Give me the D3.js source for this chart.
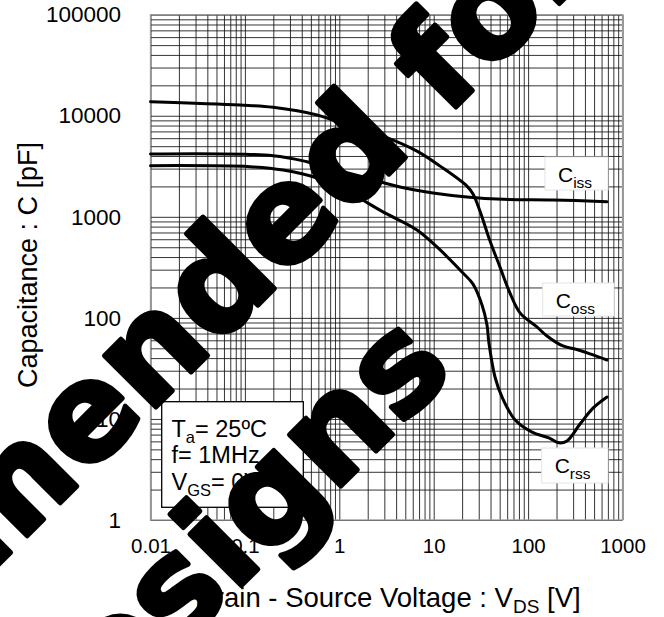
<!DOCTYPE html>
<html><head><meta charset="utf-8">
<script src="https://cdn.jsdelivr.net/npm/d3@7"></script>
<style>
body{margin:0;background:#fff}
svg{display:block}
text{font-family:"Liberation Sans", Arial, sans-serif; fill:#000}
</style>
</head><body>
<svg id="c" width="664" height="617"></svg>
<script>
// ---- data ----
const xTicks = [0.01, 0.1, 1, 10, 100, 1000];
const xTickLabels = ["0.01", "0.1", "1", "10", "100", "1000"];
const yTicks = [1, 10, 100, 1000, 10000, 100000];
const yTickLabels = ["1", "10", "100", "1000", "10000", "100000"];

const cossV = [0.01, 0.0887, 0.199, 0.581, 1.30, 2.90, 6.65, 11.7, 22.5, 26.1, 30.9, 39.5, 50.4, 64.3, 82.1, 124, 158.5, 234, 314, 453, 685];
const cossC = [13770, 12770, 12130, 10180, 7900, 6300, 4470, 3175, 2014, 1680, 1140, 575, 318, 176, 112, 81.3, 66.2, 52.7, 49.2, 44.0, 38.3];

const cissV = [0.01, 0.199, 0.455, 0.946, 1.97, 4.40, 9.84, 22.5, 54.2, 184, 685];
const cissC = [4185, 4027, 3510, 2904, 2421, 1972, 1721, 1571, 1490, 1467, 1412];

const crssV = [0.01, 0.113, 0.254, 0.581, 1.30, 2.90, 6.65, 11.7, 20.4, 26.1, 32.5, 36.7, 38.5, 44.6, 52.9, 72.6, 110, 166, 212, 258, 355, 487, 685];
const crssC = [3206, 3133, 2904, 2421, 1721, 1120, 741, 470, 278, 216, 134, 85, 56, 26, 16.5, 9.8, 7.4, 6.5, 5.8, 6.05, 8.9, 12.8, 16.5];

const seriesNames = ["C", "C", "C"];
const seriesSubs = ["iss", "oss", "rss"];
const conditionLines = [["T", "a", "= 25ºC"], ["f= 1MHz", "", ""], ["V", "GS", "= 0V"]];
const xTitle = ["Drain - Source Voltage : V", "DS", " [V]"];
const yTitle = "Capacitance : C [pF]";
const watermarkLines = ["Not Recommended for", "New Designs"];

// ---- layout ----
const L = 150.5, R = 622.5, T = 14.7, B = 520;
const svg = d3.select("#c");
const x = d3.scaleLog().domain([0.01, 1000]).range([L, R]);
const y = d3.scaleLog().domain([1, 100000]).range([B, T]);

const gridX = [];
for (let e = -2; e < 3; e++) for (let k = 1; k < 10; k++) gridX.push(k * Math.pow(10, e));
gridX.push(1000);
const gridY = [];
for (let e = 0; e < 5; e++) for (let k = 1; k < 10; k++) gridY.push(k * Math.pow(10, e));
gridY.push(100000);

const gx = svg.append("g").attr("transform", `translate(0,${B})`)
  .call(d3.axisBottom(x).tickValues(gridX).tickSize(-(B - T)).tickFormat(""));
const gy = svg.append("g").attr("transform", `translate(${L},0)`)
  .call(d3.axisLeft(y).tickValues(gridY).tickSize(-(R - L)).tickFormat(""));
[gx, gy].forEach(g => {
  g.select(".domain").remove();
  g.selectAll(".tick line").attr("stroke", "#111").attr("stroke-width", 0.85);
});

svg.append("rect").attr("x", L).attr("y", T).attr("width", R - L).attr("height", B - T)
  .attr("fill", "none").attr("stroke", "#999").attr("stroke-width", 1.3);

const ax = svg.append("g").attr("transform", `translate(0,${B})`)
  .call(d3.axisBottom(x).tickValues(xTicks).tickSize(0).tickPadding(18)
    .tickFormat((d, i) => xTickLabels[i]));
ax.select(".domain").remove();
ax.selectAll("text").attr("font-size", 20.5).attr("font-family", "Liberation Sans, Arial, sans-serif").attr("fill", "#000");

const ay = svg.append("g").attr("transform", `translate(${L},0)`)
  .call(d3.axisLeft(y).tickValues(yTicks).tickSize(0).tickPadding(29.5)
    .tickFormat((d, i) => yTickLabels[i]));
ay.select(".domain").remove();
ay.selectAll("text").attr("font-size", 22.5).attr("font-family", "Liberation Sans, Arial, sans-serif").attr("fill", "#000");

const line = d3.line().x(d => x(d[0])).y(d => y(d[1])).curve(d3.curveCatmullRom.alpha(0.5));
const series = [d3.zip(cissV, cissC), d3.zip(cossV, cossC), d3.zip(crssV, crssC)];
svg.append("g").selectAll("path").data(series).join("path")
  .attr("d", line).attr("fill", "none").attr("stroke", "#000").attr("stroke-width", 3)
  .attr("stroke-linejoin", "round").attr("stroke-linecap", "round");

const labelBoxes = [
  {x: 545, y: 157, w: 63, h: 33},
  {x: 542.7, y: 283, w: 71.3, h: 33},
  {x: 541.7, y: 448, w: 66.3, h: 35}
];
labelBoxes.forEach((b, i) => {
  svg.append("rect").attr("x", b.x).attr("y", b.y).attr("width", b.w).attr("height", b.h)
    .attr("fill", "#fff").attr("stroke", "#e4e4e4").attr("stroke-width", 1);
  const t = svg.append("text").attr("x", b.x + 13).attr("y", b.y + 25).attr("font-size", 21);
  t.append("tspan").text(seriesNames[i]);
  t.append("tspan").attr("dy", 6).attr("font-size", 15.5).text(seriesSubs[i]);
});

svg.append("rect").attr("x", 161.7).attr("y", 401.7).attr("width", 141.6).attr("height", 105.6)
  .attr("fill", "#fff").attr("stroke", "#000").attr("stroke-width", 1.3);
conditionLines.forEach((ln, i) => {
  const t = svg.append("text").attr("x", 171.5).attr("y", 436.5 + i * 26.7).attr("font-size", 23.5);
  t.append("tspan").text(ln[0]);
  if (ln[1]) {
    t.append("tspan").attr("dy", 6).attr("font-size", 16.5).text(ln[1]);
    t.append("tspan").attr("dy", -6).text(ln[2]);
  }
});

const xt = svg.append("text").attr("x", 195).attr("y", 606.5).attr("font-size", 27.5);
xt.append("tspan").text(xTitle[0]);
xt.append("tspan").attr("dy", 6).attr("font-size", 19).text(xTitle[1]);
xt.append("tspan").attr("dy", -6).text(xTitle[2]);

svg.append("text").attr("transform", "translate(37,265) rotate(-90)")
  .attr("text-anchor", "middle").attr("font-size", 27).text(yTitle);

// watermark on top
const wm = svg.append("g");
const wmPos = [[598, -35], [456, 371]];
watermarkLines.forEach((s, i) => {
  wm.append("text").attr("transform", `translate(${wmPos[i][0]},${wmPos[i][1]}) rotate(-45)`)
    .attr("text-anchor", "end").attr("font-size", 133)
    .style("font-family", "DejaVu Sans, sans-serif").attr("font-weight", "bold")
    .style("fill", "#000").attr("stroke", "#000").attr("stroke-width", 5)
    .attr("stroke-linejoin", "round")
    .text(s);
});
</script>
</body></html>
